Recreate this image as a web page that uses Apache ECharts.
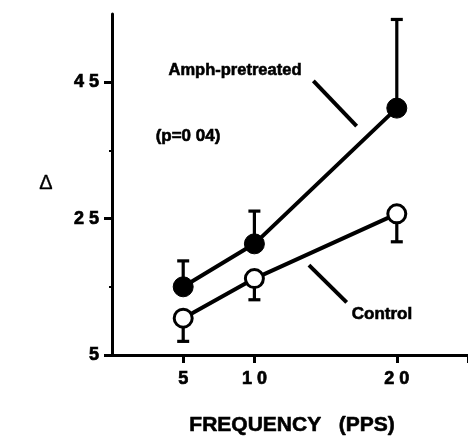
<!DOCTYPE html>
<html>
<head>
<meta charset="utf-8">
<script src="https://cdn.jsdelivr.net/npm/echarts@6/dist/echarts.min.js"></script>
<style>
html,body{margin:0;padding:0;background:#fff;}
#chart{width:468px;height:439px;}
</style>
</head>
<body>
<div id="chart"></div>
<script>
// Data
var frequencies = [5, 10, 20];
var amphMean = [15.0, 21.3, 41.2];
var amphErrTop = [18.8, 26.1, 54.2];
var controlMean = [10.4, 16.2, 25.7];
var controlErrBottom = [7.0, 13.1, 21.6];
var xTickValues = [5, 10, 20, 25];
var xLabelValues = [5, 10, 20];
var yTickValues = [5, 25, 45];
var yMinorTickValues = [15, 35];
// Leader lines (annotation), in data coordinates
var amphLeader = [[14.14, 45.2], [17.18, 38.55]];
var controlLeader = [[13.83, 18.18], [16.48, 12.72]];

var FONT = '"Liberation Sans", Arial, Helvetica, sans-serif';

function spaced(v) { return String(v).split('').join(' '); }

function pairs(xs, a) { return xs.map(function (x, i) { return [x, a[i]]; }); }
function errRows(xs, lo, hi) { return xs.map(function (x, i) { return [x, lo[i], hi[i]]; }); }

function makeErrRender(capAtHigh) {
  return function (params, api) {
    var x = api.value(0);
    var p1 = api.coord([x, api.value(1)]);
    var p2 = api.coord([x, api.value(2)]);
    var capY = capAtHigh ? p2[1] : p1[1];
    var half = 6;
    var st = { stroke: '#000', lineWidth: 3.2 };
    return {
      type: 'group',
      children: [
        { type: 'line', shape: { x1: p1[0], y1: p1[1], x2: p2[0], y2: p2[1] }, style: st },
        { type: 'line', shape: { x1: p1[0] - half, y1: capY, x2: p1[0] + half, y2: capY }, style: st }
      ]
    };
  };
}

var labelStyle = {
  color: '#000', fontFamily: FONT, fontWeight: 'bold', fontSize: 18,
  textBorderColor: '#000', textBorderWidth: 0.7
};

function txt(x, y, text, size, weight, strokeW) {
  return { type: 'text', x: x, y: y, style: {
    text: text, font: (weight || 'bold') + ' ' + size + 'px ' + FONT, fill: '#000',
    stroke: '#000', lineWidth: strokeW === undefined ? 0.6 : strokeW,
    align: 'center', verticalAlign: 'middle' } };
}

var chart = echarts.init(document.getElementById('chart'));
chart.setOption({
  animation: false,
  backgroundColor: '#fff',
  grid: { left: 112, right: 0, top: 14, bottom: 84, containLabel: false },
  xAxis: {
    type: 'value', min: 0, max: 25,
    splitLine: { show: false },
    axisLine: { show: true, lineStyle: { color: '#000', width: 3 } },
    axisTick: { show: true, customValues: xTickValues, length: 8, lineStyle: { color: '#000', width: 3 } },
    axisLabel: Object.assign({
      customValues: xLabelValues, margin: 15,
      formatter: function (v) { return spaced(v); }
    }, labelStyle)
  },
  yAxis: [{
    type: 'value', min: 5, max: 55,
    splitLine: { show: false },
    axisLine: { show: true, lineStyle: { color: '#000', width: 3 } },
    axisTick: { show: true, customValues: yTickValues, length: 8, lineStyle: { color: '#000', width: 3 } },
    axisLabel: Object.assign({
      customValues: yTickValues, margin: 13,
      formatter: function (v) { return spaced(v); }
    }, labelStyle)
  }, {
    type: 'value', min: 5, max: 55, position: 'left',
    splitLine: { show: false },
    axisLine: { show: false },
    axisTick: { show: true, customValues: yMinorTickValues, length: 3, lineStyle: { color: '#000', width: 2 } },
    axisLabel: { show: false }
  }],
  series: [
    {
      type: 'custom', name: 'amphErr', z: 1,
      renderItem: makeErrRender(true),
      encode: { x: 0, y: [1, 2] },
      data: errRows(frequencies, amphMean, amphErrTop)
    },
    {
      type: 'custom', name: 'controlErr', z: 1,
      renderItem: makeErrRender(false),
      encode: { x: 0, y: [1, 2] },
      data: errRows(frequencies, controlErrBottom, controlMean)
    },
    {
      type: 'line', name: 'Amph-pretreated', z: 3,
      data: pairs(frequencies, amphMean),
      symbol: 'circle', symbolSize: 20,
      lineStyle: { color: '#000', width: 4 },
      itemStyle: { color: '#000', borderColor: '#000', borderWidth: 1 },
      markLine: {
        silent: true, symbol: 'none', label: { show: false },
        lineStyle: { color: '#000', width: 4, type: 'solid' },
        data: [
          [{ coord: amphLeader[0] }, { coord: amphLeader[1] }],
          [{ coord: controlLeader[0] }, { coord: controlLeader[1] }]
        ]
      }
    },
    {
      type: 'line', name: 'Control', z: 3,
      data: pairs(frequencies, controlMean),
      symbol: 'circle', symbolSize: 18,
      lineStyle: { color: '#000', width: 4 },
      itemStyle: { color: '#fff', borderColor: '#000', borderWidth: 3 }
    }
  ],
  graphic: [
    txt(235, 70, 'Amph-pretreated', 16.5),
    txt(188, 136, '(p=0 04)', 17),
    txt(382, 314, 'Control', 17),
    txt(292, 425, 'FREQUENCY   (PPS)', 21),
    txt(46, 183, 'Δ', 20, 'normal', 0.3)
  ]
});
</script>
</body>
</html>
